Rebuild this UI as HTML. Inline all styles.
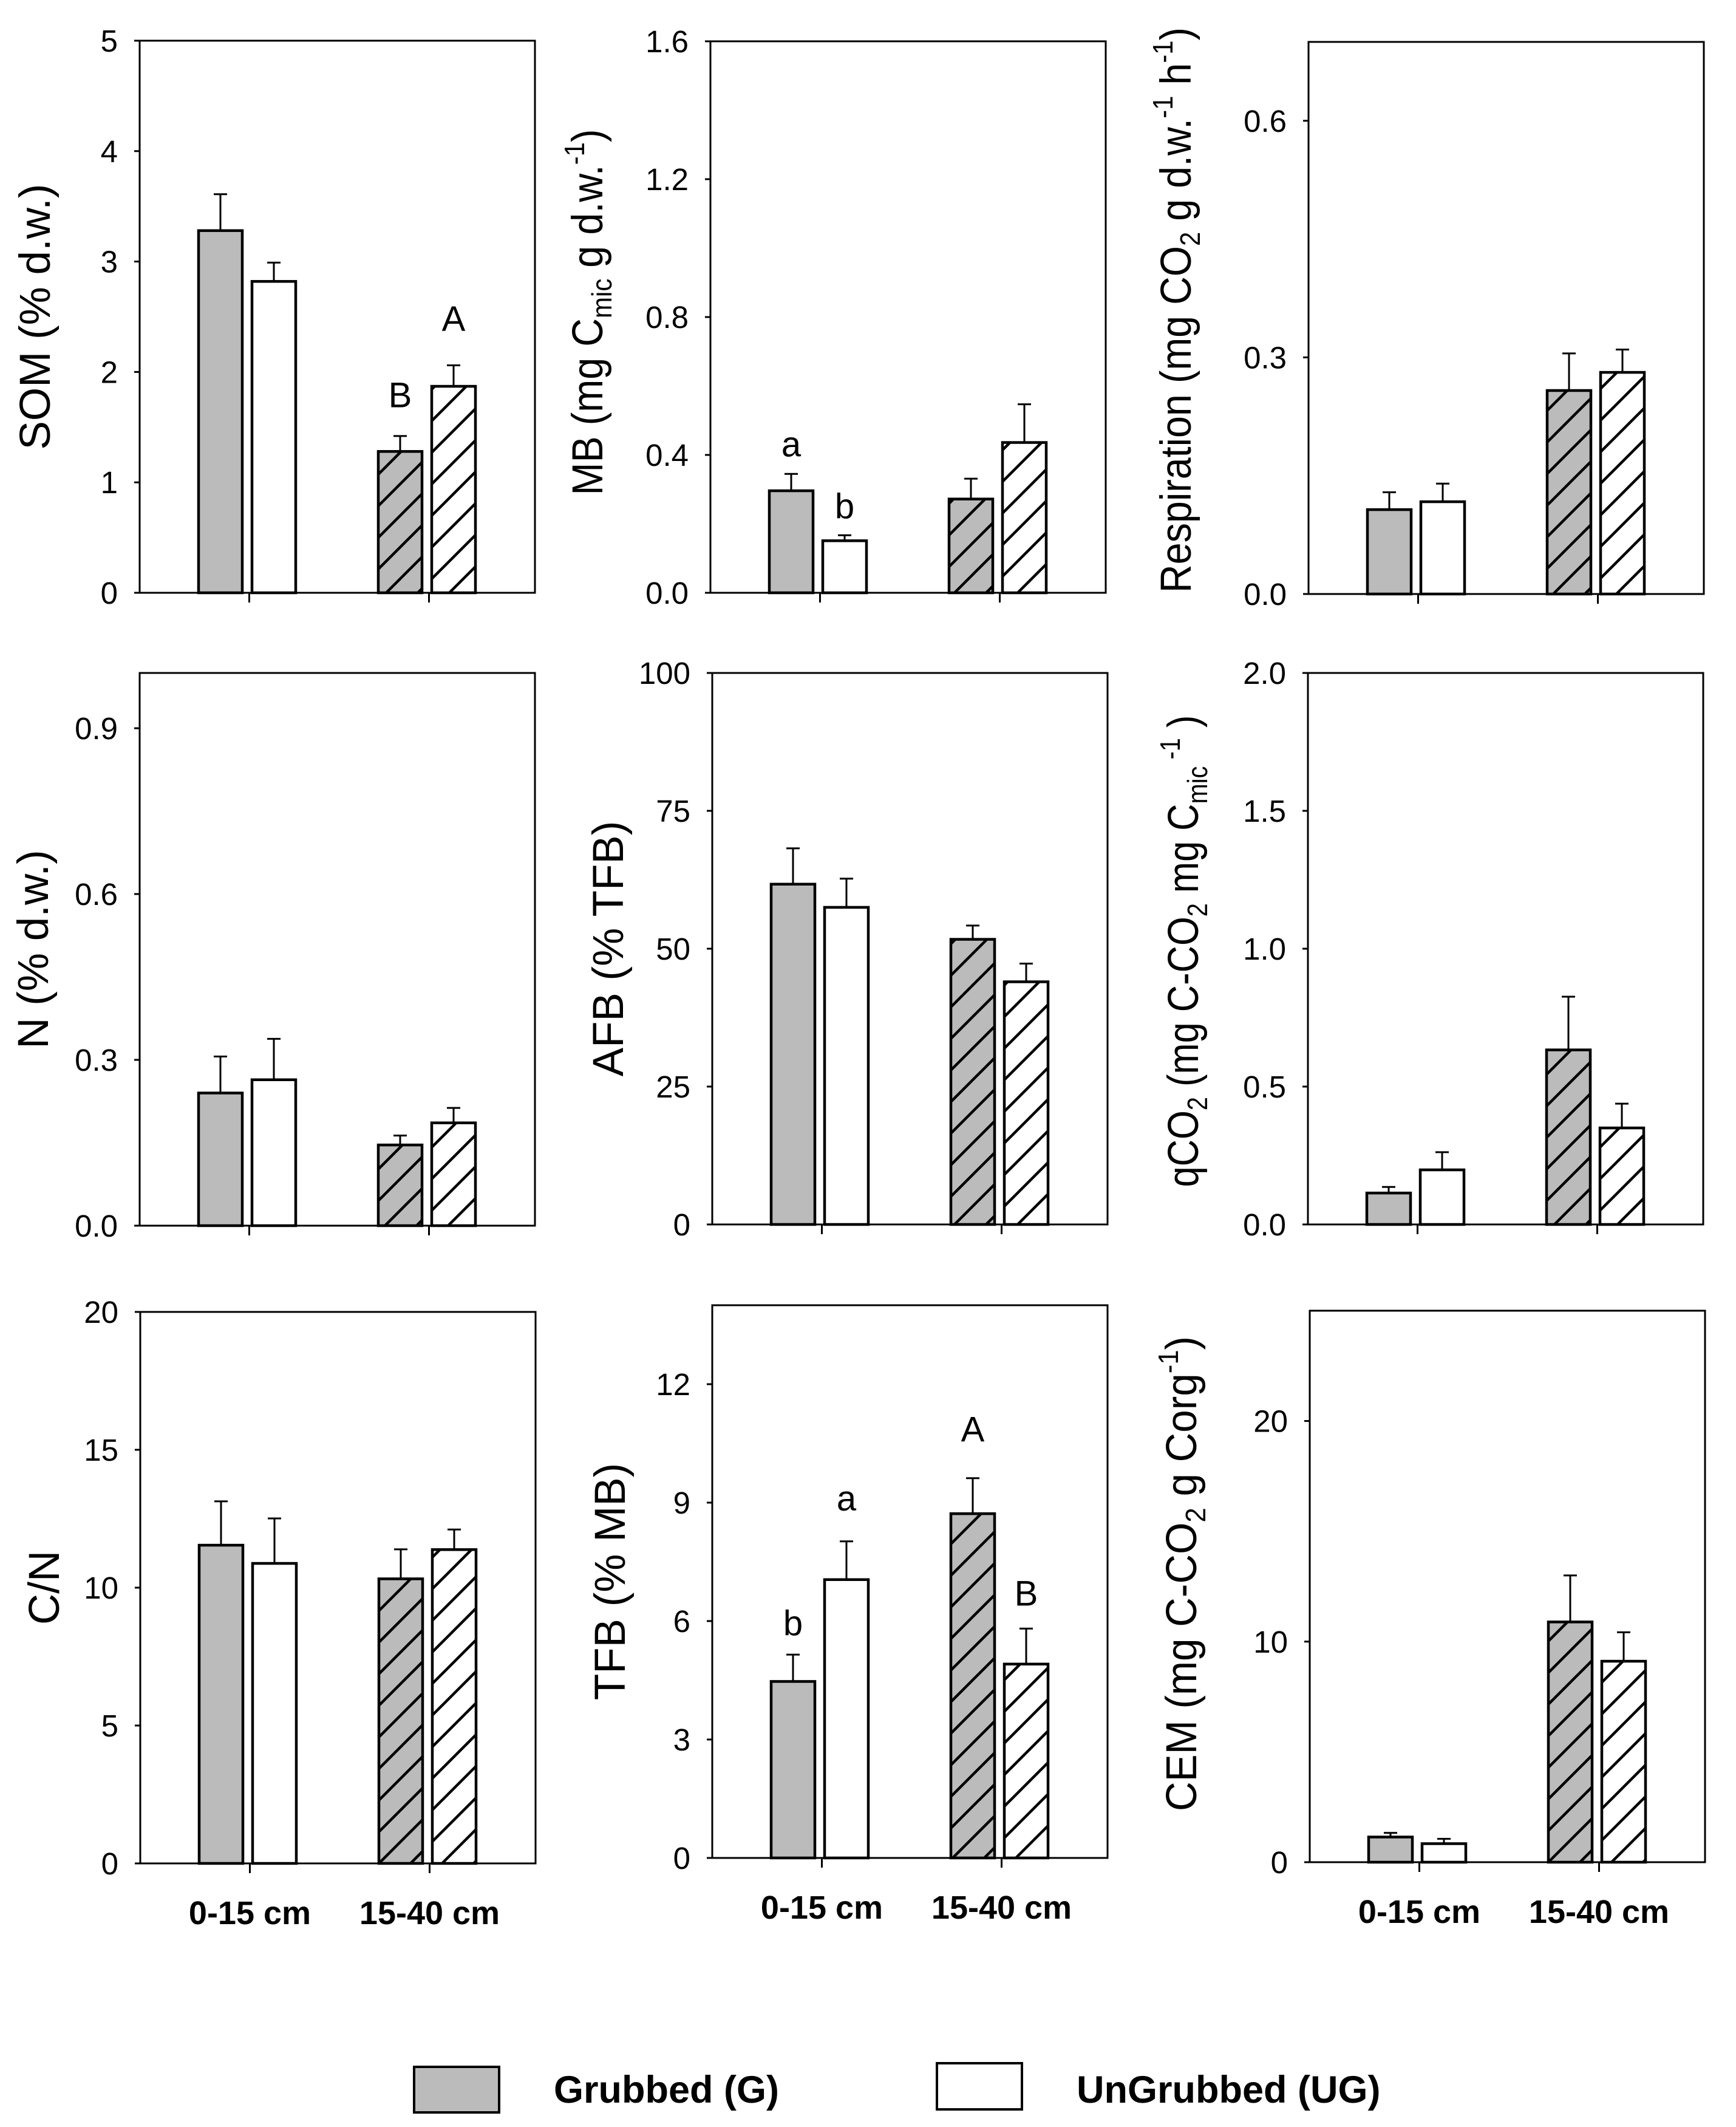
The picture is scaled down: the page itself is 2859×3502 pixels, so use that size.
<!DOCTYPE html>
<html><head><meta charset="utf-8"><style>
html,body{margin:0;padding:0;background:#fff;}
svg{display:block;font-family:"Liberation Sans",Arial,sans-serif;}
</style></head><body>
<svg id="fig" width="2859" height="3502" viewBox="0 0 2859 3502" xmlns="http://www.w3.org/2000/svg">
<defs>
<pattern id="hatchG" patternUnits="userSpaceOnUse" width="52" height="52">
<rect width="52" height="52" fill="#bbbbbb"/>
<path d="M-13,13 L13,-13 M0,52 L52,0 M39,65 L65,39" stroke="#000" stroke-width="4.5"/>
</pattern>
<pattern id="hatchW" patternUnits="userSpaceOnUse" width="52" height="52">
<rect width="52" height="52" fill="#ffffff"/>
<path d="M-13,13 L13,-13 M0,52 L52,0 M39,65 L65,39" stroke="#000" stroke-width="4.5"/>
</pattern>
</defs>
<g id="panels"></g>
<g>
<rect x="682" y="3403" width="140" height="75" fill="#bbbbbb" stroke="#000" stroke-width="4"/>
<text x="912" y="3462" font-size="63" font-weight="bold">Grubbed (G)</text>
<rect x="1543" y="3397" width="140" height="76" fill="#fff" stroke="#000" stroke-width="4"/>
<text x="1773" y="3462" font-size="63" font-weight="bold">UnGrubbed (UG)</text>
</g>
</svg>
<script>
// Data arrays (order: G 0-15, UG 0-15, G 15-40, UG 15-40)
const categories = ["0-15 cm", "15-40 cm"];
const somValues = [3.28, 2.82, 1.28, 1.87];
const somErrTop = [3.61, 2.99, 1.42, 2.06];
const somTicks = ["0","1","2","3","4","5"];
const mbValues = [0.296, 0.151, 0.272, 0.436];
const mbErrTop = [0.345, 0.167, 0.331, 0.547];
const mbTicks = ["0.0","0.4","0.8","1.2","1.6"];
const respValues = [0.107, 0.117, 0.258, 0.281];
const respErrTop = [0.129, 0.140, 0.305, 0.310];
const respTicks = ["0.0","0.3","0.6"];
const nValues = [0.240, 0.264, 0.146, 0.186];
const nErrTop = [0.306, 0.338, 0.163, 0.213];
const nTicks = ["0.0","0.3","0.6","0.9"];
const afbValues = [61.7, 57.5, 51.7, 44.0];
const afbErrTop = [68.2, 62.7, 54.2, 47.3];
const afbTicks = ["0","25","50","75","100"];
const qco2Values = [0.114, 0.198, 0.633, 0.350];
const qco2ErrTop = [0.136, 0.262, 0.826, 0.438];
const qco2Ticks = ["0.0","0.5","1.0","1.5","2.0"];
const cnValues = [11.54, 10.88, 10.32, 11.38];
const cnErrTop = [13.13, 12.51, 11.39, 12.11];
const cnTicks = ["0","5","10","15","20"];
const tfbValues = [4.47, 7.05, 8.72, 4.91];
const tfbErrTop = [5.15, 8.02, 9.62, 5.81];
const tfbTicks = ["0","3","6","9","12"];
const cemValues = [1.14, 0.84, 10.89, 9.11];
const cemErrTop = [1.33, 1.06, 13.0, 10.42];
const cemTicks = ["0","10","20"];
const somLetters = ["", "", "B", "A"];
const somLetterAt = [0, 0, 1.68, 2.37];
const mbLetters = ["a", "b", "", ""];
const mbLetterAt = [0.396, 0.216, 0, 0];
const tfbLetters = ["b", "a", "A", "B"];
const tfbLetterAt = [5.64, 8.8, 10.55, 6.39];

const NS = "http://www.w3.org/2000/svg";
const root = document.getElementById("panels");
function mk(tag, attrs, parent){
  const e = document.createElementNS(NS, tag);
  for (const k in attrs) e.setAttribute(k, attrs[k]);
  parent.appendChild(e);
  return e;
}
const W = 651;
const panels = [
 {id:"som", left:230, top:67, bottom:976, max:5, vals:somValues, err:somErrTop, ticks:somTicks, letters:somLetters, lat:somLetterAt, tx:148, dy:0, tl:0,
  title:[["SOM (% d.w.)",""]], cats:false},
 {id:"mb", left:1170, top:68, bottom:976, max:1.6, vals:mbValues, err:mbErrTop, ticks:mbTicks, letters:mbLetters, lat:mbLetterAt, tx:178, dy:-8, tl:603,
  title:[["MB (mg C",""],["mic","sub"],[" g d.w.",""],["-1","sup"],[")",""]], cats:false},
 {id:"respiration", left:2155, top:69, bottom:978, max:0.7, vals:respValues, err:respErrTop, ticks:respTicks, letters:null, tx:194, dy:-13, tl:931,
  title:[["Respiration (mg CO",""],["2","sub"],[" g d.w.",""],["-1","sup"],[" h",""],["-1","sup"],[")",""]], cats:false},
 {id:"n", left:230, top:1108, bottom:2018, max:1.0, vals:nValues, err:nErrTop, ticks:nTicks, letters:null, tx:151, dy:0, tl:0,
  title:[["N (% d.w.)",""]], cats:false},
 {id:"afb", left:1173, top:1108, bottom:2016, max:100, vals:afbValues, err:afbErrTop, ticks:afbTicks, letters:null, tx:147, dy:0, tl:0,
  title:[["AFB (% TFB)",""]], cats:false},
 {id:"qco2", left:2154, top:1108, bottom:2016, max:2.0, vals:qco2Values, err:qco2ErrTop, ticks:qco2Ticks, letters:null, tx:181, dy:4, tl:777,
  title:[["qCO",""],["2","sub"],[" (mg C-CO",""],["2","sub"],[" mg C",""],["mic","sub"],[" -1","sup"],[" )",""]], cats:false},
 {id:"cn", left:231, top:2160, bottom:3068, max:20, vals:cnValues, err:cnErrTop, ticks:cnTicks, letters:null, tx:134, dy:0, tl:0,
  title:[["C/N",""]], cats:true},
 {id:"tfb", left:1173, top:2149, bottom:3059, max:14, vals:tfbValues, err:tfbErrTop, ticks:tfbTicks, letters:tfbLetters, lat:tfbLetterAt, tx:144, dy:0, tl:0,
  title:[["TFB (% MB)",""]], cats:true},
 {id:"cem", left:2157, top:2158, bottom:3066, max:25, vals:cemValues, err:cemErrTop, ticks:cemTicks, letters:null, tx:187, dy:-21, tl:782,
  title:[["CEM (mg C-CO",""],["2","sub"],[" g Corg",""],["-1","sup"],[")",""]], cats:true}
];
const barOffsets = [-83.5, 4.5];
panels.forEach(p => {
  const g = mk("g", {}, root);
  
  
  const y = v => p.bottom - (v / p.max) * (p.bottom - p.top);
  const catX = i => p.left + 180.5 + i * 296;
  const fr = mk("rect", {x:p.left, y:p.top, width:W, height:p.bottom-p.top, fill:"none", stroke:"#000", "stroke-width":3}, g);
  
  
  p.ticks.forEach(t => {
    const ty = y(parseFloat(t));
    const tl = mk("line", {x1:p.left-9, x2:p.left, y1:ty, y2:ty, stroke:"#000", "stroke-width":3}, g);
    
    
    const tt = mk("text", {x:p.left-36, y:ty+18, "font-size":51, "text-anchor":"end"}, g);
    tt.textContent = t;
    
    
  });
  categories.forEach((c, i) => {
    const cx = catX(i);
    const cl = mk("line", {x1:cx, x2:cx, y1:p.bottom, y2:p.bottom+16, stroke:"#000", "stroke-width":3}, g);
    
    
    if (p.cats) {
      const ct = mk("text", {x:cx, y:p.bottom+100, "font-size":54, "font-weight":"bold", "text-anchor":"middle"}, g);
      ct.textContent = c;
      
      
    }
  });
  p.vals.forEach((v, k) => {
    const cat = Math.floor(k / 2), ser = k % 2;
    const x0 = catX(cat) + barOffsets[ser];
    const fill = cat === 0 ? (ser === 0 ? "#bbbbbb" : "#ffffff") : (ser === 0 ? "url(#hatchG)" : "url(#hatchW)");
    const top = y(v);
    const b = mk("rect", {x:x0, y:top, width:72, height:p.bottom-top, fill:fill, stroke:"#000", "stroke-width":4.5}, g);
    
    
    const ex = x0 + 36, ey = y(p.err[k]);
    const e1 = mk("line", {x1:ex, x2:ex, y1:top, y2:ey, stroke:"#000", "stroke-width":3}, g);
    
    
    const e2 = mk("line", {x1:ex-11, x2:ex+11, y1:ey, y2:ey, stroke:"#000", "stroke-width":3}, g);
    
    
    if (p.letters && p.letters[k]) {
      const lt = mk("text", {x:ex, y:y(p.lat[k]), "font-size":58, "text-anchor":"middle"}, g);
      lt.textContent = p.letters[k];
      
      
    }
  });
  const cy = (p.top + p.bottom) / 2 + p.dy, bx = p.left - p.tx;
  const attrs = {x:0, y:0, "font-size":71, "text-anchor":"middle", transform:`translate(${bx},${cy}) rotate(-90)`};
  if (p.tl) { attrs.textLength = p.tl; attrs.lengthAdjust = "spacingAndGlyphs"; }
  const t = mk("text", attrs, g);
  
  
  p.title.forEach(([s, kind]) => {
    const ts = mk("tspan", {}, t);
    if (kind === "sub") { ts.setAttribute("font-size", 46); ts.setAttribute("baseline-shift", "-15"); }
    if (kind === "sup") { ts.setAttribute("font-size", 46); ts.setAttribute("baseline-shift", "30"); }
    ts.textContent = s;
  });
});
</script>
</body></html>
